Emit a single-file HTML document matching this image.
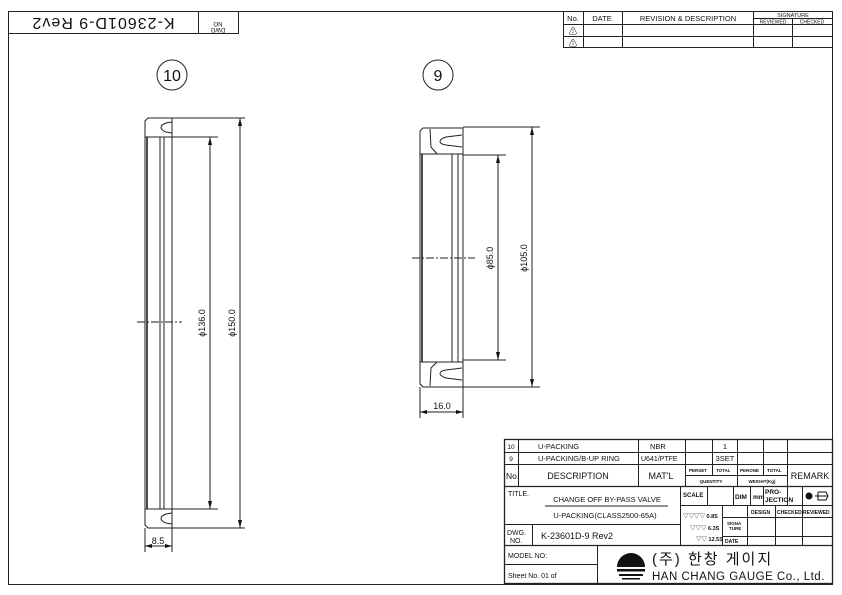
<!DOCTYPE html>
<html><head><meta charset="utf-8"><style>
html,body{margin:0;padding:0;background:#fff}
svg{display:block}
text{font-family:"Liberation Sans","Noto Sans CJK KR",sans-serif;fill:#111}
</style></head><body>
<svg width="842" height="595" viewBox="0 0 842 595" xmlns="http://www.w3.org/2000/svg">
<g stroke="#222" fill="none" stroke-width="1">
<rect x="8.5" y="11.5" width="824" height="573"/>
<rect x="8.5" y="11.5" width="230" height="22"/>
<line x1="198.5" y1="11.5" x2="198.5" y2="33.5"/>
<rect x="563.5" y="11.5" width="269" height="36"/>
<line x1="563.5" y1="24.5" x2="832.5" y2="24.5"/>
<line x1="563.5" y1="36.5" x2="832.5" y2="36.5"/>
<line x1="583.5" y1="11.5" x2="583.5" y2="47.5"/>
<line x1="622.5" y1="11.5" x2="622.5" y2="47.5"/>
<line x1="753.5" y1="11.5" x2="753.5" y2="47.5"/>
<line x1="792.5" y1="18.5" x2="792.5" y2="47.5"/>
<line x1="753.5" y1="18.5" x2="832.5" y2="18.5"/>

<circle cx="172" cy="75" r="15"/>
<circle cx="438" cy="75" r="15"/>

<path d="M145 121 L148 118 L172 118 L172 528 L148 528 L145 525 Z"/>
<line x1="145" y1="137" x2="172" y2="137"/>
<line x1="145" y1="509" x2="172" y2="509"/>
<line x1="147" y1="137" x2="147" y2="509" stroke-width="1.6"/>
<line x1="160" y1="137" x2="160" y2="509"/>
<line x1="164" y1="137" x2="164" y2="509"/>
<path d="M172 122 L166 123 Q161 125 161 127.5 Q161 130 166 132 L172 133"/>
<path d="M172 524 L166 523 Q161 521 161 518.5 Q161 516 166 514 L172 513"/>
<line x1="172" y1="118" x2="245" y2="118"/>
<line x1="172" y1="528" x2="245" y2="528"/>
<line x1="172" y1="137" x2="218" y2="137"/>
<line x1="172" y1="509" x2="218" y2="509"/>
<line x1="210" y1="137" x2="210" y2="509"/>
<line x1="240" y1="118" x2="240" y2="528"/>
<line x1="137" y1="322" x2="182" y2="322" stroke-dasharray="8 2 2 2"/>
<line x1="145" y1="528" x2="145" y2="552"/>
<line x1="172" y1="528" x2="172" y2="552"/>
<line x1="145" y1="546" x2="172" y2="546"/>

<path d="M420 131 L423 128 L463 128 L463 387 L423 387 L420 384 Z"/>
<line x1="420" y1="154" x2="463" y2="154"/>
<line x1="420" y1="362" x2="463" y2="362"/>
<line x1="422" y1="154" x2="422" y2="362" stroke-width="1.6"/>
<line x1="452" y1="154" x2="452" y2="362"/>
<line x1="458" y1="154" x2="458" y2="362"/>
<path d="M430 129 L431 147 L437 154"/>
<path d="M430 386 L431 368 L437 362"/>
<path d="M462 135 L446 137 Q440 139 440 141.5 Q440 144 446 145 L462 147"/>
<path d="M462 380 L446 378 Q440 376 440 373.5 Q440 371 446 370 L462 368"/>
<line x1="463" y1="127" x2="540" y2="127"/>
<line x1="463" y1="387" x2="540" y2="387"/>
<line x1="463" y1="155" x2="506" y2="155"/>
<line x1="463" y1="360" x2="506" y2="360"/>
<line x1="498" y1="155" x2="498" y2="360"/>
<line x1="532" y1="127" x2="532" y2="387"/>
<line x1="412" y1="258" x2="475" y2="258" stroke-dasharray="8 2 2 2"/>
<line x1="420" y1="387" x2="420" y2="418"/>
<line x1="463" y1="387" x2="463" y2="418"/>
<line x1="420" y1="412" x2="463" y2="412"/>

<rect x="504.5" y="439.5" width="328" height="144" stroke-width="1.3"/>
<line x1="504.5" y1="452.5" x2="832.5" y2="452.5"/>
<line x1="504.5" y1="464.5" x2="832.5" y2="464.5"/>
<line x1="504.5" y1="486.5" x2="832.5" y2="486.5" stroke-width="1.3"/>
<line x1="518.5" y1="439.5" x2="518.5" y2="486.5"/>
<line x1="638.5" y1="439.5" x2="638.5" y2="486.5"/>
<line x1="685.5" y1="439.5" x2="685.5" y2="486.5"/>
<line x1="712.5" y1="439.5" x2="712.5" y2="475.5"/>
<line x1="737.5" y1="439.5" x2="737.5" y2="486.5"/>
<line x1="763.5" y1="439.5" x2="763.5" y2="475.5"/>
<line x1="787.5" y1="439.5" x2="787.5" y2="486.5"/>
<line x1="685.5" y1="475.5" x2="787.5" y2="475.5"/>
<line x1="680.5" y1="486.5" x2="680.5" y2="545.5"/>
<line x1="680.5" y1="505.5" x2="832.5" y2="505.5"/>
<line x1="747.5" y1="505.5" x2="747.5" y2="545.5"/>
<line x1="722.5" y1="505.5" x2="722.5" y2="545.5"/>
<line x1="775.5" y1="505.5" x2="775.5" y2="545.5"/>
<line x1="802.5" y1="486.5" x2="802.5" y2="545.5"/>
<line x1="722.5" y1="517.5" x2="832.5" y2="517.5"/>
<line x1="722.5" y1="536.5" x2="832.5" y2="536.5"/>
<line x1="707.5" y1="486.5" x2="707.5" y2="505.5"/>
<line x1="733.5" y1="486.5" x2="733.5" y2="505.5"/>
<line x1="750.5" y1="486.5" x2="750.5" y2="505.5"/>
<line x1="763.5" y1="486.5" x2="763.5" y2="505.5"/>
<line x1="787.5" y1="486.5" x2="787.5" y2="505.5"/>
<line x1="504.5" y1="524.5" x2="680.5" y2="524.5"/>
<line x1="532.5" y1="524.5" x2="532.5" y2="545.5"/>
<line x1="504.5" y1="545.5" x2="832.5" y2="545.5" stroke-width="1.3"/>
<line x1="504.5" y1="564.5" x2="597.5" y2="564.5"/>
<line x1="597.5" y1="545.5" x2="597.5" y2="583.5"/>
<line x1="545" y1="506" x2="668" y2="506"/>
</g>
<g fill="#111">
<path d="M210 137 l-2 8 l4 0 Z"/><path d="M210 509 l-2 -8 l4 0 Z"/>
<path d="M240 118 l-2 8 l4 0 Z"/><path d="M240 528 l-2 -8 l4 0 Z"/>
<path d="M498 155 l-2 8 l4 0 Z"/><path d="M498 360 l-2 -8 l4 0 Z"/>
<path d="M532 127 l-2 8 l4 0 Z"/><path d="M532 387 l-2 -8 l4 0 Z"/>
<path d="M145 546 l7 -2 l0 4 Z"/><path d="M172 546 l-7 -2 l0 4 Z"/>
<path d="M420 412 l7 -2 l0 4 Z"/><path d="M463 412 l-7 -2 l0 4 Z"/>
<path d="M617 567 a14 14 0 0 1 28 0 Z"/>
<rect x="617" y="569" width="28" height="2.5"/><rect x="619" y="574" width="24" height="2"/><rect x="622" y="578" width="18" height="1.5"/>
</g>
<text x="172" y="81" font-size="16" text-anchor="middle">10</text>
<text x="438" y="81" font-size="16" text-anchor="middle">9</text>
<text transform="translate(205 323) rotate(-90)" font-size="9" text-anchor="middle">ϕ136.0</text>
<text transform="translate(235 323) rotate(-90)" font-size="9" text-anchor="middle">ϕ150.0</text>
<text transform="translate(493 258) rotate(-90)" font-size="9" text-anchor="middle">ϕ85.0</text>
<text transform="translate(527 258) rotate(-90)" font-size="9" text-anchor="middle">ϕ105.0</text>
<text x="158" y="544" font-size="9" text-anchor="middle">8.5</text>
<text x="442" y="409" font-size="9" text-anchor="middle">16.0</text>
<text transform="translate(103 22) rotate(180)" font-size="16" text-anchor="middle" dominant-baseline="middle" letter-spacing="1">K-23601D-9 Rev2</text>
<text transform="translate(218 22) rotate(180)" font-size="6" text-anchor="middle">NO</text>
<text transform="translate(218 28) rotate(180)" font-size="6" text-anchor="middle">DWG</text>
<text x="573" y="21" font-size="7.5" text-anchor="middle">No.</text>
<text x="602" y="21" font-size="7.5" text-anchor="middle">DATE</text>
<text x="688" y="21" font-size="7.5" text-anchor="middle">REVISION &amp; DESCRIPTION</text>
<text x="793" y="17" font-size="5.5" text-anchor="middle">SIGNATURE</text>
<text x="773" y="23.5" font-size="5" text-anchor="middle">REVIEWED</text>
<text x="812" y="23.5" font-size="5" text-anchor="middle">CHECKED</text>
<text x="573" y="34" font-size="8" text-anchor="middle">⚠</text>
<text x="573" y="46" font-size="8" text-anchor="middle">⚠</text>
<g font-size="7.5">
<text x="511" y="449" text-anchor="middle" font-size="6.5">10</text>
<text x="538" y="449">U-PACKING</text>
<text x="650" y="449">NBR</text>
<text x="725" y="449" text-anchor="middle">1</text>
<text x="511" y="461" text-anchor="middle" font-size="6.5">9</text>
<text x="538" y="461">U-PACKING/B-UP RING</text>
<text x="641" y="461" font-size="7">U641/PTFE</text>
<text x="725" y="461" text-anchor="middle">3SET</text>
<text x="506" y="479" font-size="8.5">No.</text>
<text x="578" y="479" text-anchor="middle" font-size="9">DESCRIPTION</text>
<text x="661" y="479" text-anchor="middle" font-size="9">MAT'L</text>
<text x="810" y="479" text-anchor="middle" font-size="9">REMARK</text>
<text x="508" y="496" font-size="7">TITLE.</text>
<text x="607" y="502" text-anchor="middle">CHANGE OFF BY-PASS VALVE</text>
<text x="605" y="518" text-anchor="middle">U-PACKING(CLASS2500-65A)</text>
<text x="507" y="535" font-size="7">DWG.</text>
<text x="510" y="543" font-size="7">NO.</text>
<text x="541" y="539" font-size="9">K-23601D-9 Rev2</text>
<text x="508" y="558" font-size="7">MODEL NO:</text>
<text x="508" y="578" font-size="7">Sheet No. 01 of</text>
<text x="652" y="564" font-size="15" letter-spacing="2">(주) 한창 게이지</text>
<text x="652" y="580" font-size="11.5" letter-spacing="0.5">HAN CHANG GAUGE Co., Ltd.</text>
</g>
<g font-size="4.5" font-weight="bold">
<text x="689" y="472">PERSET</text><text x="716" y="472">TOTAL</text>
<text x="740" y="472">PERONE</text><text x="767" y="472">TOTAL</text>
<text x="711" y="483" text-anchor="middle">QUENTITY</text>
<text x="762" y="483" text-anchor="middle">WEIGHT(Kg)</text>
<text x="751" y="514" font-size="5">DESIGN</text>
<text x="777" y="514" font-size="5">CHECKED</text>
<text x="803" y="514" font-size="5">REVIEWED</text>
<text x="727" y="525">SIGNA</text><text x="729" y="530">TURE</text>
<text x="725" y="543" font-size="5">DATE</text>
<text x="683" y="497" font-size="6">SCALE</text>
<text x="735" y="499" font-size="6.5">DIM</text>
<text x="753" y="499" font-size="6.5">mm</text>
<text x="765" y="494" font-size="6.5">PRO-</text>
<text x="765" y="502" font-size="6.5">JECTION</text>
<text x="683" y="518" font-size="5.5">▽▽▽▽ 0.8S</text>
<text x="690" y="530" font-size="5.5">▽▽▽ 6.3S</text>
<text x="696" y="541" font-size="5.5">▽▽ 12.5S</text>
</g>
<circle cx="809" cy="496" r="3.5" fill="#111"/>
<path d="M815 496h12M818 492v8h8l2-4-2-4h-8" stroke="#111" fill="none"/>
</svg>
</body></html>
